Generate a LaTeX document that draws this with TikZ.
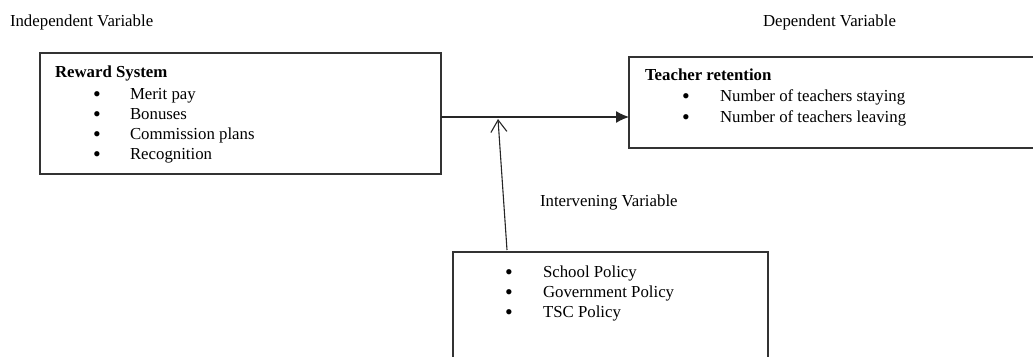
\documentclass[tikz,border=0pt]{standalone}
\usepackage{fontspec}
\setmainfont{Liberation Serif}
\usetikzlibrary{arrows.meta}
\begin{document}
\begin{tikzpicture}[x=1pt,y=-1pt,
  every node/.style={inner sep=0pt,outer sep=0pt,font=\fontsize{16.8}{20}\selectfont},
  txt/.style={anchor=base west},
  ttl/.style={anchor=base west,font=\fontsize{16.8}{20}\selectfont\bfseries},
  bul/.style={anchor=base,yshift=-2.5pt,font=\fontsize{22}{20}\selectfont},
  box/.style={draw=black!80,line width=1.3pt,rectangle,minimum width=#1},
  conn/.style={draw=black!85,line width=1.1pt}]
\useasboundingbox (0,0) rectangle (1033,356);
\clip (0,0) rectangle (1033,356);
% labels
\node[txt] (iv) at (10,26) {Independent Variable};
\node[txt] (dv) at (763,26) {Dependent Variable};
\node[txt] (inv) at (540,206) {Intervening Variable};
% boxes
\node[box=401pt,minimum height=121pt] (rs) at (240.5,113.5) {};
\node[box=420pt,minimum height=91pt] (tr) at (839,102.5) {};
\node[box=315pt,minimum height=140pt] (ib) at (610.5,322) {};
% reward system
\node[ttl] (rst) at (55,77) {Reward System};
\node[bul] (rb1) at (97,99) {•};
\node[bul] (rb2) at (97,119) {•};
\node[bul] (rb3) at (97,139) {•};
\node[bul] (rb4) at (97,159) {•};
\node[txt] (r1) at (130,99) {Merit pay};
\node[txt] (r2) at (130,119) {Bonuses};
\node[txt] (r3) at (130,139) {Commission plans};
\node[txt] (r4) at (130,159) {Recognition};
% teacher retention
\node[ttl] (trt) at (645,80) {Teacher retention};
\node[bul] (tb1) at (686,101) {•};
\node[bul] (tb2) at (686,122) {•};
\node[txt] (t1) at (720,101) {Number of teachers staying};
\node[txt] (t2) at (720,122) {Number of teachers leaving};
% intervening
\node[bul] (ib1) at (509,277) {•};
\node[bul] (ib2) at (509,297) {•};
\node[bul] (ib3) at (509,317) {•};
\node[txt] (i1) at (543,277) {School Policy};
\node[txt] (i2) at (543,297) {Government Policy};
\node[txt] (i3) at (543,317) {TSC Policy};
% connectors
\coordinate (h) at (0,117);
\coordinate (vs) at (507,250);
\coordinate (vt) at (498,119);
\draw[conn,-{Latex[length=13pt,width=12pt]}] (rs.east |- h) -- (tr.west |- h);
\draw[conn,-{Straight Barb[length=12pt,width=16pt,line width=1.1pt]}] (vs) -- (vt);
\end{tikzpicture}
\end{document}
